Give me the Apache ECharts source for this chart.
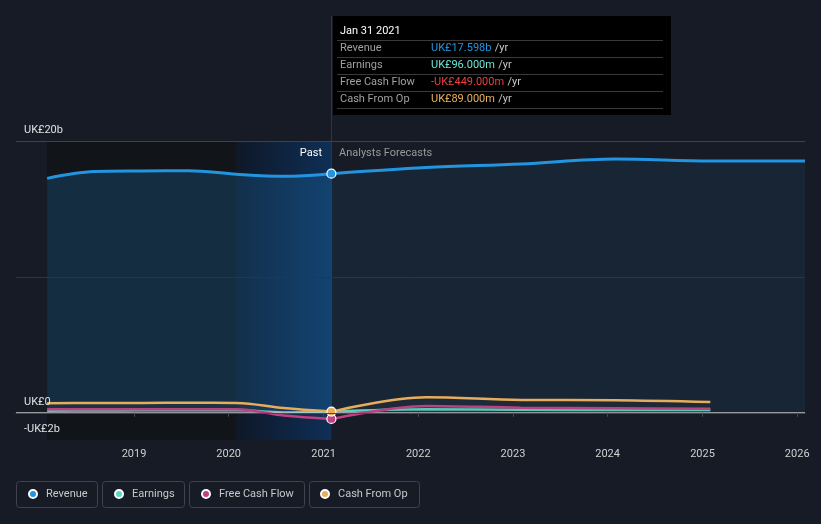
<!DOCTYPE html>
<html><head><meta charset="utf-8">
<script src="https://cdn.jsdelivr.net/npm/echarts@6/dist/echarts.min.js"></script>
<style>html,body{margin:0;padding:0;background:#161b25;} #c{width:821px;height:524px;}</style>
</head><body><div id="c"></div>
<script>
// ---- data (UK£ billions) ----
const pastDates = ['2018-01-31','2018-07-31','2019-01-31','2019-07-31','2020-01-31','2020-07-31','2021-01-31'];
const forecastDates = ['2022-01-31','2023-01-31','2024-01-31','2025-01-31','2026-01-31'];
const revenuePast = [17.25, 17.75, 17.8, 17.82, 17.55, 17.4, 17.598];
const revenueForecast = [18.05, 18.31, 18.68, 18.53, 18.53];
const earningsPast = [0.15, 0.17, 0.18, 0.18, 0.2, 0.03, 0.096];
const earningsForecast = [0.27, 0.22, 0.21, 0.2];
const fcfPast = [0.27, 0.27, 0.27, 0.27, 0.27, -0.2, -0.449];
const fcfForecast = [0.51, 0.37, 0.34, 0.3];
const cfoPast = [0.71, 0.72, 0.73, 0.74, 0.73, 0.35, 0.089];
const cfoForecast = [1.15, 0.95, 0.93, 0.8];
const yTickLabels = {'20': 'UK£20b', '0': 'UK£0', '-2': '-UK£2b'};
const xTickYears = [2019, 2020, 2021, 2022, 2023, 2024, 2025, 2026];
const focusDate = '2021-01-31';
const focusLabel = 'Jan 31 2021';
const pastStart = '2018-01-31';
const shadeStart = '2020-01-31';
const xMin = '2017-10-03';
const xMax = '2026-01-31';

const C = {rev:'#2394df', earn:'#58d9c4', fcf:'#c04081', cfo:'#e8ad5a'};
const FONT = 'Roboto, "Noto Sans", sans-serif';
const ts = s => new Date(s + 'T00:00:00Z').getTime();

function zipPairs(dates, vals){ return vals.map((v,i)=>[ts(dates[i]), v]); }
function fcast(vals, past){ return [[ts(pastDates[pastDates.length-1]), past[past.length-1]]].concat(zipPairs(forecastDates, vals)); }
const lastIdx = pastDates.length - 1;
const focusSize = (v, p) => p.dataIndex === lastIdx ? 9 : 0;

function lineSeries(name, color, data, area, isPast, z){
  return {
    name, type:'line', data, smooth:0.35, z,
    showAllSymbol:true, symbol:'circle',
    symbolSize: isPast ? focusSize : 0,
    lineStyle:{color, width: name==='Revenue'?3:2.5},
    itemStyle:{color, borderColor:'#ffffff', borderWidth:1.2},
    areaStyle: area ? {color: area, origin: 0} : undefined,
    emphasis:{disabled:true}, silent:true, animation:false
  };
}

const chart = echarts.init(document.getElementById('c'));
const yearTs = xTickYears.map(y => Date.UTC(y,0,1));

const option = {
  backgroundColor:'#161b25',
  animation:false,
  textStyle:{fontFamily:FONT},
  grid:{left:16, right:16, top:141, bottom:84},
  xAxis:{
    type:'value', min:ts(xMin), max:ts(xMax), z:10,
    axisLine:{show:true, lineStyle:{color:'#434955', width:1}},
    axisTick:{show:true, length:4, lineStyle:{color:'#434955'}, customValues: yearTs},
    axisLabel:{color:'#d0d0d0', fontSize:11, fontFamily:FONT, margin:9, customValues: yearTs,
      formatter: v => String(new Date(v).getUTCFullYear())},
    splitLine:{show:false}
  },
  yAxis:{
    type:'value', min:-2, max:20, interval:2, z:10,
    axisLine:{show:false}, axisTick:{show:false}, splitLine:{show:false},
    axisLabel:{inside:true, margin:8, color:'#e0e0e0', fontSize:11, fontFamily:FONT,
      verticalAlign:'bottom', padding:[0,0,5,0],
      formatter: v => yTickLabels[String(v)] || ''}
  },
  legend: [
    ['Revenue', 28], ['Earnings', 114], ['Free Cash Flow', 201], ['Cash From Op', 320]
  ].map(([n, l]) => ({
    data:[n], left:l, top:487, padding:0, itemWidth:8, itemHeight:8, icon:'circle',
    textStyle:{color:'#c8c8c8', fontSize:11, fontFamily:FONT, padding:[0,0,0,4], lineHeight:14},
    selectedMode:false
  })),
  series:[
    {
      name:'shade', type:'line', data:[], z:0, silent:true,
      markArea:{silent:true, data:[
        [{xAxis:ts(pastStart), itemStyle:{color:'#111419'}}, {xAxis:ts(shadeStart)}],
        [{xAxis:ts(shadeStart), itemStyle:{color:{type:'linear',x:0,y:0,x2:1,y2:0,colorStops:[
          {offset:0,color:'#0e1828'},{offset:1,color:'#0e2f56'}]}}}, {xAxis:ts(focusDate)}]
      ]},
      markLine:{silent:true, symbol:'none', label:{show:false}, animation:false, data:[
        {yAxis:20, lineStyle:{color:'#3c414b', width:1, type:'solid'}},
        {yAxis:10, lineStyle:{color:'#2e3440', width:1, type:'solid'}}
      ]}
    },
    lineSeries('Revenue', C.rev, fcast(revenueForecast, revenuePast), 'rgba(35,148,223,0.13)', false, 2),
    lineSeries('Revenue', C.rev, zipPairs(pastDates, revenuePast), 'rgba(35,148,223,0.28)', true, 3),
    lineSeries('Earnings', C.earn, fcast(earningsForecast, earningsPast), 'rgba(110,110,120,0.12)', false, 4),
    lineSeries('Earnings', C.earn, zipPairs(pastDates, earningsPast), 'rgba(110,110,120,0.12)', false, 4),
    lineSeries('Free Cash Flow', C.fcf, fcast(fcfForecast, fcfPast), 'rgba(110,110,120,0.12)', false, 5),
    lineSeries('Free Cash Flow', C.fcf, zipPairs(pastDates, fcfPast), 'rgba(110,110,120,0.12)', true, 5),
    lineSeries('Cash From Op', C.cfo, fcast(cfoForecast, cfoPast), 'rgba(110,110,120,0.12)', false, 6),
    lineSeries('Cash From Op', C.cfo, zipPairs(pastDates, cfoPast), 'rgba(110,110,120,0.12)', true, 6),
    {
      name:'zero', type:'line', data:[], z:8, silent:true,
      markLine:{silent:true, symbol:'none', label:{show:false}, animation:false, data:[
        {yAxis:0, lineStyle:{color:'#c4c4c4', width:1.5, type:'solid'}}
      ]}
    }
  ]
};
chart.setOption(option);

// ---- overlay: tooltip box & past/forecast labels, anchored to the focus date ----
const fx = Math.round(chart.convertToPixel({xAxisIndex:0}, ts(focusDate)));
const gridTop = chart.convertToPixel({yAxisIndex:0}, 20);
const zeroY = chart.convertToPixel({yAxisIndex:0}, 0);

function fmt(v){
  const neg = v < 0; const a = Math.abs(v);
  const s = a >= 1 ? a.toFixed(3) + 'b' : (a*1000).toFixed(3) + 'm';
  return (neg ? '-' : '') + 'UK£' + s;
}
const rows = [
  ['Revenue', revenuePast[lastIdx], C.rev],
  ['Earnings', earningsPast[lastIdx], '#6ee6d2'],
  ['Free Cash Flow', fcfPast[lastIdx], '#e8413f'],
  ['Cash From Op', cfoPast[lastIdx], '#e9b15c']
];
const bx = fx + 2, by = 16, bw = 338, bh = 99;
const g = [
  {type:'line', shape:{x1:fx+0.5, y1:by, x2:fx+0.5, y2:zeroY}, style:{stroke:'#26374d', lineWidth:1}, z:1, silent:true},
  {type:'rect', shape:{x:bx, y:by, width:bw, height:bh}, style:{fill:'#000000'}, z:20, silent:true},
  {type:'text', x:bx+7, y:by+15, style:{text:focusLabel, fill:'#ffffff', font:'11px '+FONT, verticalAlign:'middle'}, z:21, silent:true}
];
[24, 41, 58, 75, 92].forEach(dy => g.push({type:'line', shape:{x1:bx+4, y1:by+dy+0.5, x2:bx+bw-8, y2:by+dy+0.5}, style:{stroke:'#3a3a3a', lineWidth:1}, z:21, silent:true}));
rows.forEach((r, i) => {
  const cy = by + 32.5 + i*17;
  g.push({type:'text', x:bx+7, y:cy, style:{text:r[0], fill:'#a0a0a0', font:'11px '+FONT, verticalAlign:'middle'}, z:21, silent:true});
  g.push({type:'text', x:bx+98, y:cy, style:{text:'{v|'+fmt(r[1])+'} {u|/yr}', verticalAlign:'middle',
    rich:{v:{fill:r[2], font:'11px '+FONT}, u:{fill:'#c8c8c8', font:'11px '+FONT}}}, z:21, silent:true});
});
g.push({type:'text', x:fx-9, y:gridTop+12, style:{text:'Past', fill:'#ffffff', font:'11px '+FONT, align:'right', verticalAlign:'middle'}, z:21, silent:true});
g.push({type:'text', x:fx+8, y:gridTop+12, style:{text:'Analysts Forecasts', fill:'#9a9a9a', font:'11px '+FONT, verticalAlign:'middle'}, z:21, silent:true});
// legend item frames
[[16,81],[102,82],[189,115],[309,110]].forEach(([x,w]) => g.push({type:'rect', shape:{x:x+0.5, y:481.5, width:w, height:26, r:3}, style:{fill:'none', stroke:'#3d4350', lineWidth:1}, z:1, silent:true}));
chart.setOption({graphic: g});
</script></body></html>
